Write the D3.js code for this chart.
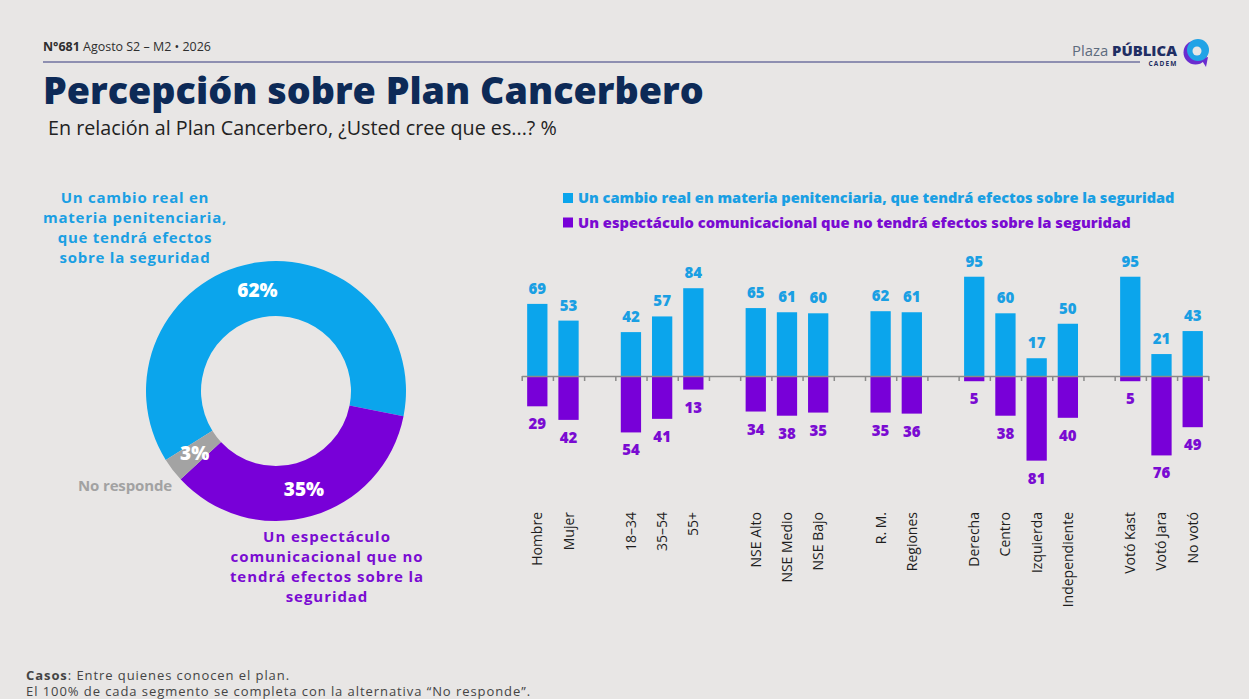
<!DOCTYPE html>
<html>
<head>
<meta charset="utf-8">
<script src="https://cdn.jsdelivr.net/npm/d3@7"></script>
<style>
  body { margin: 0; background: #e8e6e5; }
  svg { display: block; }
  text { font-family: "Open Sans", sans-serif; }
</style>
</head>
<body>
<div id="chart"></div>
<script>
// Data

var segments = ["Hombre", "Mujer", "18–34", "35–54", "55+", "NSE Alto", "NSE Medio", "NSE Bajo",
  "R. M.", "Regiones", "Derecha", "Centro", "Izquierda", "Independiente", "Votó Kast", "Votó Jara", "No votó"];
// how many segments in each block (blocks are separated by an empty slot)
var groupSizes = [2, 3, 3, 2, 4, 3];
var cambio = [69, 53, 42, 57, 84, 65, 61, 60, 62, 61, 95, 60, 17, 50, 95, 21, 43];
var espectaculo = [29, 42, 54, 41, 13, 34, 38, 35, 35, 36, 5, 38, 81, 40, 5, 76, 49];

var donutNames = ["Un cambio real", "Un espectáculo", "No responde"];
var donutValues = [62, 35, 3];

var legendLabels = [
  "Un cambio real en materia penitenciaria, que tendrá efectos sobre la seguridad",
  "Un espectáculo comunicacional que no tendrá efectos sobre la seguridad"
];

// Colors
var blue = "#0ba5ec";
var blueText = "#1a9fe3";
var purple = "#7800d8";
var purpleText = "#7a0bd2";
var gray = "#a2a2a2";
var navy = "#0d2a57";

var width = 1249;
var height = 699;

var svg = d3.select("#chart")
  .append("svg")
  .attr("width", width)
  .attr("height", height);

svg.append("rect")
  .attr("width", width)
  .attr("height", height)
  .attr("fill", "#e8e6e5");

// stretch/shrink font so the text spans a given width
function fit(sel, w) {
  var len = sel.node().getComputedTextLength();
  var fs = parseFloat(sel.attr("font-size"));
  sel.attr("font-size", fs * w / len);
}

// keep the font size, widen with letter spacing instead
function spread(sel, w) {
  var len = sel.node().getComputedTextLength();
  var n = sel.text().length;
  sel.attr("letter-spacing", (w - len) / n);
}

// Header

var header = svg.append("text")
  .attr("x", 43)
  .attr("y", 51)
  .attr("font-size", 13)
  .attr("fill", "#2e2e2e");
header.append("tspan").attr("font-weight", 700).text("N°681");
header.append("tspan").text(" Agosto S2 – M2 • 2026");
fit(header, 168);

svg.append("line")
  .attr("x1", 43).attr("x2", 1140)
  .attr("y1", 62).attr("y2", 62)
  .attr("stroke", "#34397e")
  .attr("stroke-width", 1.2);

// Logo
var logo = svg.append("text")
  .attr("x", 1072)
  .attr("y", 56)
  .attr("font-size", 14.5);
logo.append("tspan").attr("fill", "#5d6b7e").text("Plaza ");
logo.append("tspan").attr("fill", "#1f2e63").attr("font-weight", 800).text("PÚBLICA");
fit(logo, 105);

svg.append("text")
  .attr("x", 1163)
  .attr("y", 66)
  .attr("text-anchor", "middle")
  .attr("font-size", 6.5)
  .attr("font-weight", 700)
  .attr("letter-spacing", 1.2)
  .attr("fill", "#1f2e63")
  .text("CADEM");

var icon = svg.append("g").attr("transform", "translate(1197,51)");
icon.append("circle").attr("cx", -1.5).attr("cy", 1.5).attr("r", 12).attr("fill", "#6a2ccf");
icon.append("path")
  .attr("d", "M4,8 L9,16 L11,6 Z")
  .attr("fill", "#6a2ccf");
icon.append("circle").attr("cx", 1).attr("cy", -1).attr("r", 11).attr("fill", "#21a3e6");
icon.append("circle").attr("cx", 0).attr("cy", 0).attr("r", 4.5).attr("fill", "#e8e6e5");

// Title
var title = svg.append("text")
  .attr("x", 43)
  .attr("y", 104)
  .attr("font-size", 38)
  .attr("font-weight", 800)
  .attr("fill", navy)
  .text("Percepción sobre Plan Cancerbero");
fit(title, 661);

var subtitle = svg.append("text")
  .attr("x", 48)
  .attr("y", 135)
  .attr("font-size", 17)
  .attr("fill", "#222")
  .text("En relación al Plan Cancerbero, ¿Usted cree que es...? %");
fit(subtitle, 509);

// Donut

var cx = 276, cy = 391;
var rOuter = 130, rInner = 75;
var donutColors = [blue, purple, "#a3a3a3"];

var pie = d3.pie()
  .sort(null)
  .startAngle(-122 * Math.PI / 180)
  .endAngle(238 * Math.PI / 180);

var arc = d3.arc().innerRadius(rInner).outerRadius(rOuter);

var donut = svg.append("g").attr("transform", "translate(" + cx + "," + cy + ")");

var slices = pie(donutValues);

donut.selectAll("path")
  .data(slices)
  .enter()
  .append("path")
  .attr("d", arc)
  .attr("fill", function(d, i) { return donutColors[i]; });

donut.selectAll("text")
  .data(slices)
  .enter()
  .append("text")
  .attr("transform", function(d) { return "translate(" + arc.centroid(d) + ")"; })
  .attr("dy", "0.36em")
  .attr("text-anchor", "middle")
  .attr("font-size", 19)
  .attr("font-weight", 800)
  .attr("fill", "#fff")
  .text(function(d) { return d.data + "%"; });

// Donut labels: lines share a letter spacing set from the widest line
function multiLine(lines, x, y0, color, widest, widestW) {
  var g = svg.append("g")
    .attr("font-family", "Roboto, sans-serif")
    .attr("font-weight", 700)
    .attr("fill", color)
    .attr("text-anchor", "middle")
    .attr("font-size", 15);
  var probe = g.append("text").text(lines[widest]);
  spread(probe, widestW);
  var ls = probe.attr("letter-spacing");
  probe.remove();
  lines.forEach(function(s, i) {
    g.append("text")
      .attr("x", x)
      .attr("y", y0 + i * 20)
      .attr("letter-spacing", ls)
      .text(s);
  });
  return g;
}

multiLine(["Un cambio real en", "materia penitenciaria,", "que tendrá efectos", "sobre la seguridad"],
  135, 203, blueText, 1, 184);
multiLine(["Un espectáculo", "comunicacional que no", "tendrá efectos sobre la", "seguridad"],
  327, 542, purpleText, 1, 193);
multiLine(["No responde"], 125, 491, gray, 0, 94);

// Bar chart

var domain = [];
var k = 0;
groupSizes.forEach(function(n, gi) {
  if (gi > 0) domain.push("gap" + gi);
  for (var i = 0; i < n; i++) domain.push(segments[k++]);
});

var rows = segments.map(function(s, i) {
  return { seg: s, a: cambio[i], b: espectaculo[i] };
});

var x0 = 521.7, x1 = 1208.3;
var xScale = d3.scaleBand()
  .domain(domain)
  .range([x0, x1])
  .paddingInner(0.35)
  .paddingOuter(0.175);

var yScale = d3.scaleLinear()
  .domain([-100, 100])
  .range([480.5, 271.5]);

var bw = xScale.bandwidth();

var bars = svg.append("g");

bars.selectAll(".up")
  .data(rows)
  .enter()
  .append("rect")
  .attr("class", "up")
  .attr("x", function(d) { return xScale(d.seg); })
  .attr("y", function(d) { return yScale(d.a); })
  .attr("width", bw)
  .attr("height", function(d) { return yScale(0) - yScale(d.a); })
  .attr("fill", blue);

bars.selectAll(".down")
  .data(rows)
  .enter()
  .append("rect")
  .attr("class", "down")
  .attr("x", function(d) { return xScale(d.seg); })
  .attr("y", yScale(0))
  .attr("width", bw)
  .attr("height", function(d) { return yScale(-d.b) - yScale(0); })
  .attr("fill", purple);

// Values
bars.selectAll(".vUp")
  .data(rows)
  .enter()
  .append("text")
  .attr("x", function(d) { return xScale(d.seg) + bw / 2; })
  .attr("y", function(d) { return yScale(d.a) - 10; })
  .attr("text-anchor", "middle")
  .attr("font-size", 15)
  .attr("font-weight", 800)
  .attr("fill", blueText)
  .text(function(d) { return d.a; });

bars.selectAll(".vDown")
  .data(rows)
  .enter()
  .append("text")
  .attr("x", function(d) { return xScale(d.seg) + bw / 2; })
  .attr("y", function(d) { return yScale(-d.b) + 23; })
  .attr("text-anchor", "middle")
  .attr("font-size", 15)
  .attr("font-weight", 800)
  .attr("fill", purpleText)
  .text(function(d) { return d.b; });

// Axis with a tick between every slot
var slotScale = d3.scaleLinear().domain([0, domain.length]).range([x0, x1]);
var xAxis = d3.axisBottom(slotScale)
  .tickValues(d3.range(domain.length + 1))
  .tickSize(5)
  .tickSizeOuter(0)
  .tickFormat("");

var axisG = svg.append("g")
  .attr("transform", "translate(0," + yScale(0) + ")")
  .call(xAxis);
axisG.selectAll("path, line")
  .attr("stroke", "#8a8a8a")
  .attr("stroke-width", 1.5);

// Category labels
svg.append("g")
  .selectAll("text")
  .data(rows)
  .enter()
  .append("text")
  .attr("transform", function(d) {
    return "translate(" + (xScale(d.seg) + bw / 2 + 5) + ",512)rotate(-90)";
  })
  .attr("text-anchor", "end")
  .attr("font-size", 14)
  .attr("fill", "#1e1e1e")
  .text(function(d) { return d.seg; });

// Legend
var legendColors = [blue, purple];
var legendTextColors = [blueText, purpleText];
var legendWidths = [597, 553];
legendLabels.forEach(function(t, i) {
  var y = 198 + i * 24.5;
  svg.append("rect")
    .attr("x", 563)
    .attr("y", y - 5)
    .attr("width", 10)
    .attr("height", 10)
    .attr("fill", legendColors[i]);
  var lt = svg.append("text")
    .attr("x", 578)
    .attr("y", y + 5)
    .attr("font-size", 15)
    .attr("font-weight", 800)
    .attr("fill", legendTextColors[i])
    .text(t);
  fit(lt, legendWidths[i]);
});

// Footer
var foot2 = svg.append("text")
  .attr("x", 26)
  .attr("y", 695.5)
  .attr("font-family", "Roboto, sans-serif")
  .attr("font-size", 13)
  .attr("fill", "#444")
  .text("El 100% de cada segmento se completa con la alternativa “No responde”.");
spread(foot2, 505);

var foot1 = svg.append("text")
  .attr("x", 26)
  .attr("y", 679.5)
  .attr("font-family", "Roboto, sans-serif")
  .attr("font-size", 13)
  .attr("letter-spacing", foot2.attr("letter-spacing"))
  .attr("fill", "#444");
foot1.append("tspan").attr("font-weight", 700).text("Casos");
foot1.append("tspan").text(": Entre quienes conocen el plan.");
</script>
</body>
</html>
